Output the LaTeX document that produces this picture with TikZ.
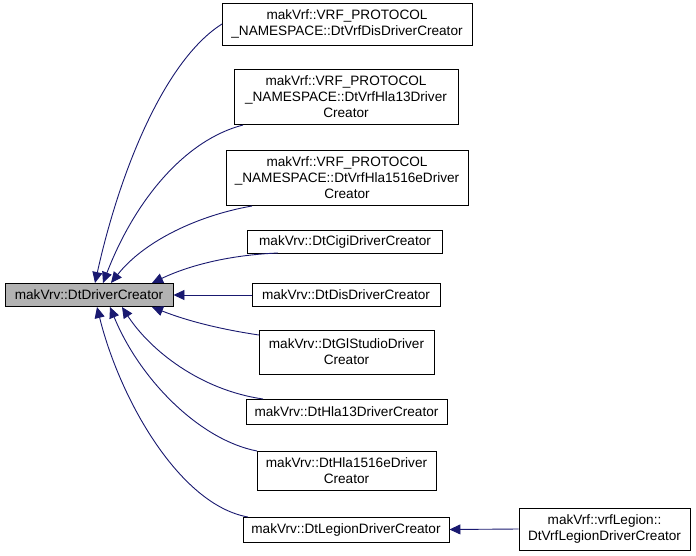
\documentclass[tikz,border=0pt]{standalone}
\usepackage{fontspec}
\setmainfont{Liberation Sans}
\usetikzlibrary{arrows.meta}
\definecolor{edge}{HTML}{191970}
\begin{document}
\begin{tikzpicture}[x=1pt,y=-1pt,
  box/.style={draw=black,fill=white,line width=0.9pt,align=center,inner sep=0pt,font=\fontsize{13.6}{16}\selectfont},
  e/.style={draw=edge,line width=0.9pt,{Triangle[length=11pt,width=10pt]}-}]
\useasboundingbox[fill=white] (0,0) rectangle (696,555);
\node[box,fill=gray!60,minimum width=168,minimum height=23] (r) at (89,295) {makVrv::DtDriverCreator};
\node[box,minimum width=250,minimum height=42] (n1) at (347,24) {makVrf::VRF\_PROTOCOL\\\_NAMESPACE::DtVrfDisDriverCreator};
\node[box,minimum width=224,minimum height=55] (n2) at (346,97) {makVrf::VRF\_PROTOCOL\\\_NAMESPACE::DtVrfHla13Driver\\Creator};
\node[box,minimum width=242,minimum height=55] (n3) at (347,178) {makVrf::VRF\_PROTOCOL\\\_NAMESPACE::DtVrfHla1516eDriver\\Creator};
\node[box,minimum width=195,minimum height=23] (n4) at (345,242) {makVrv::DtCigiDriverCreator};
\node[box,minimum width=188,minimum height=23] (n5) at (346,295) {makVrv::DtDisDriverCreator};
\node[box,minimum width=175,minimum height=44] (n6) at (346.5,352) {makVrv::DtGlStudioDriver\\Creator};
\node[box,minimum width=201,minimum height=25] (n7) at (346.5,411.5) {makVrv::DtHla13DriverCreator};
\node[box,minimum width=179,minimum height=39] (n8) at (346.5,470.5) {makVrv::DtHla1516eDriver\\Creator};
\node[box,minimum width=206,minimum height=25] (n9) at (346,529.5) {makVrv::DtLegionDriverCreator};
\node[box,minimum width=171,minimum height=42] (n10) at (604.5,529) {makVrf::vrfLegion::\\DtVrfLegionDriverCreator};
\draw[e] (95,283) .. controls (120,170) and (165,60) .. (222,24);
\draw[e] (103,283) .. controls (135,200) and (185,140) .. (243,125);
\draw[e] (111,283) .. controls (145,240) and (200,215) .. (252,206);
\draw[e] (152,283) .. controls (190,265) and (230,255) .. (278,253);
\draw[e] (r.east) -- (n5.west);
\draw[e] (152,307) .. controls (190,322) and (225,330) .. (259,335);
\draw[e] (122,307) .. controls (150,350) and (200,390) .. (263,399);
\draw[e] (110,307) .. controls (140,380) and (200,440) .. (257,451);
\draw[e] (97,307) .. controls (120,400) and (180,505) .. (248,517);
\draw[e] (n9.east) -- (n10.west);
\end{tikzpicture}
\end{document}
